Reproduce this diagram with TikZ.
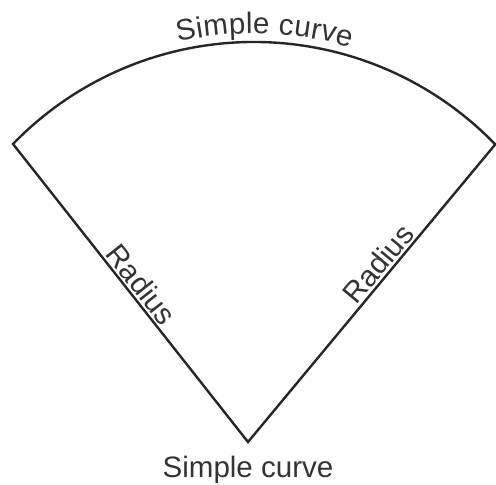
\documentclass[tikz,border=0pt]{standalone}
\usepackage{fontspec}
\setmainfont{Liberation Sans}
\usepackage{tikz}
\usetikzlibrary{decorations.text}

\newcommand{\labelfont}{\fontsize{21}{24}\selectfont}

\begin{document}
\begin{tikzpicture}[
    x=0.025cm, y=0.025cm,
    edge/.style={line width=1.7pt, line join=miter, draw=black!85},
    label/.style={font=\labelfont, text=black!80, inner sep=2pt}
]
\useasboundingbox (0,0) rectangle (496,485);

% Define corners
\coordinate (apex) at (248,43);
\coordinate (left) at (13,341);
\coordinate (right) at (495,340);

% Outline: curve on top, two radii down to the apex
\draw[edge] (left) arc[start angle=135.9, end angle=44.0, radius=335.5]
    -- (apex) -- cycle;

% Text along the top curve
\path[decorate, decoration={text along path, raise=6pt,
      text={|\labelfont\color{black!80}|Simple curve},
      text align={center, left indent=0.5cm}}]
    (left) arc[start angle=135.9, end angle=44.0, radius=335.5];

% Radius labels
\path (left) -- node[label, midway, sloped, above] {Radius} (apex);
\path (apex) -- node[label, pos=0.57, sloped, above] {Radius} (right);

% Bottom label
\node[label, anchor=base, inner sep=0pt] (bottom) at (248,7) {Simple curve};

\end{tikzpicture}
\end{document}
